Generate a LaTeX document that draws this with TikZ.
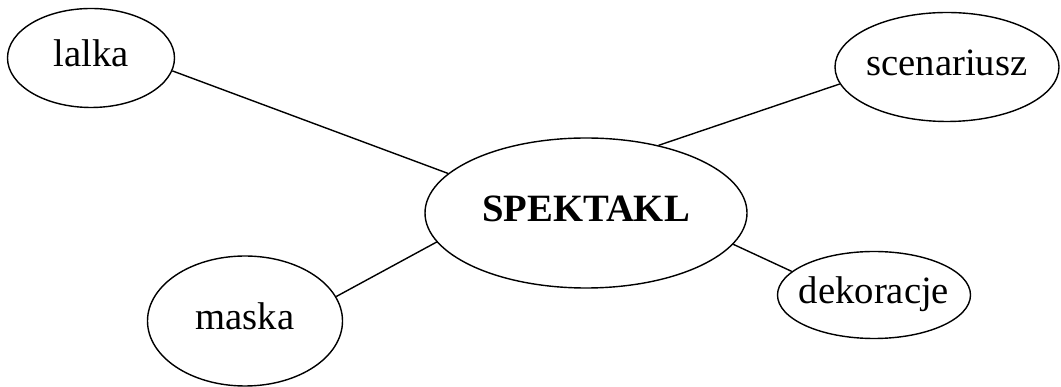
\documentclass[tikz,border=0pt]{standalone}
\usepackage{fontspec}
\setmainfont{Liberation Serif}
\usetikzlibrary{shapes.geometric}
\tikzstyle{bubble}=[ellipse,draw,line width=0.8pt,inner xsep=-0.5cm,inner ysep=0pt,text height=0.5cm,text depth=0.15cm,font=\fontsize{22}{26}\selectfont]
\begin{document}
\begin{tikzpicture}
\useasboundingbox (0, 0) rectangle (21.22, 7.74);
\node[bubble, minimum width=6.44cm, minimum height=3.00cm] at (11.72, 3.48) (spektakl) {\textbf{SPEKTAKL}};
\node[bubble, minimum width=3.34cm, minimum height=1.98cm] at (1.82, 6.58) (lalka) {lalka};
\node[bubble, minimum width=4.48cm, minimum height=2.18cm] at (18.94, 6.40) (scenariusz) {scenariusz};
\node[bubble, minimum width=3.86cm, minimum height=1.74cm] at (17.48, 1.84) (dekoracje) {dekoracje};
\node[bubble, minimum width=3.90cm, minimum height=2.60cm] at (4.90, 1.32) (maska) {maska};
\draw[line width=0.8pt] (lalka.-9) edge (spektakl.164);
\draw[line width=0.8pt] (scenariusz.189) edge (spektakl.43);
\draw[line width=0.8pt] (spektakl.-12) edge (dekoracje.164);
\draw[line width=0.8pt] (maska.15) edge (spektakl.191);
\end{tikzpicture}
\end{document}
